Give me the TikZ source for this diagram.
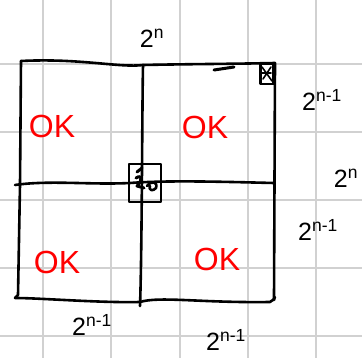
\documentclass[tikz,border=0pt]{standalone}
\usepackage{fontspec}
\setmainfont{Liberation Sans}
\begin{document}
\begin{tikzpicture}[x=1pt,y=-1pt,
  gridline/.style={draw=black!18,line width=1.4pt},
  ink/.style={draw=black,line width=2.6pt,line cap=round,line join=round},
  lbl/.style={font=\fontsize{25}{27}\selectfont,inner sep=0pt},
  oklbl/.style={font=\fontsize{32}{34}\selectfont,text=red,inner sep=0pt}]
\useasboundingbox (0,0) rectangle (362,358);
\fill[white] (0,0) rectangle (362,358);
% grid
\foreach \gx in {43,111,180,248,316} \draw[gridline] (\gx,0) -- (\gx,358);
\foreach \gy in {64,132,200,268,336} \draw[gridline] (0,\gy) -- (362,\gy);
% coordinates
\coordinate (tl) at (21,61);
\coordinate (tr) at (275,63);
\coordinate (bl) at (15,298);
\coordinate (br) at (274,300);
\coordinate (tm) at (143,65);
\coordinate (bm) at (140,306);
\coordinate (ml) at (15,185);
\coordinate (mr) at (274,183);
% outer square
\draw[ink] (tl) .. controls (80,58) and (120,68) .. (tm) .. controls (190,64) and (230,64) .. (tr) -- (br) .. controls (276,293) and (275,300) .. (270,302) .. controls (200,303) and (160,296) .. (140,302) .. controls (100,303) and (40,298) .. (15,298);
\draw[ink] (tl) -- (20,185) -- (18,295) -- (bl);
% middle lines
\draw[ink] (tm) .. controls (142,120) and (142,250) .. (bm);
\draw[ink] (ml) .. controls (50,180) and (90,185) .. (130,183) .. controls (170,180) and (230,182) .. (mr);
% small stroke on top edge
\draw[ink,line width=3pt] (214,70) -- (234,67);
% top-right small square
\node[ink,draw,minimum width=13pt,minimum height=20pt,inner sep=0pt] (cs) at (267,74) {};
\draw[ink,line width=1.6pt] (262,67) -- (272,81) (262,73) -- (271,73) (263,79) -- (271,67);
% center small square
\node[ink,draw,minimum width=32pt,minimum height=38pt,inner sep=0pt] (cc) at (145,183) {};
\draw[ink,line width=3pt] (137,172) -- (142,168) (136,178) .. controls (142,174) and (143,180) .. (137,186) -- (144,188);
\draw[ink,line width=2.6pt] (147,186) .. controls (152,180) and (158,182) .. (156,188) .. controls (153,192) and (148,190) .. (150,186);
% labels
\node[lbl] (top) at (152,38) {2\textsuperscript{n}};
\node[lbl] (r1) at (322,100) {2\textsuperscript{n-1}};
\node[lbl] (r2) at (346,178) {2\textsuperscript{n}};
\node[lbl] (r3) at (318,230) {2\textsuperscript{n-1}};
\node[lbl] (b1) at (92,325) {2\textsuperscript{n-1}};
\node[lbl] (b2) at (226,340) {2\textsuperscript{n-1}};
% OK labels
\node[oklbl] (ok1) at (52,126) {OK};
\node[oklbl] (ok2) at (205,127) {OK};
\node[oklbl] (ok3) at (57,262) {OK};
\node[oklbl] (ok4) at (217,259) {OK};
\end{tikzpicture}
\end{document}
